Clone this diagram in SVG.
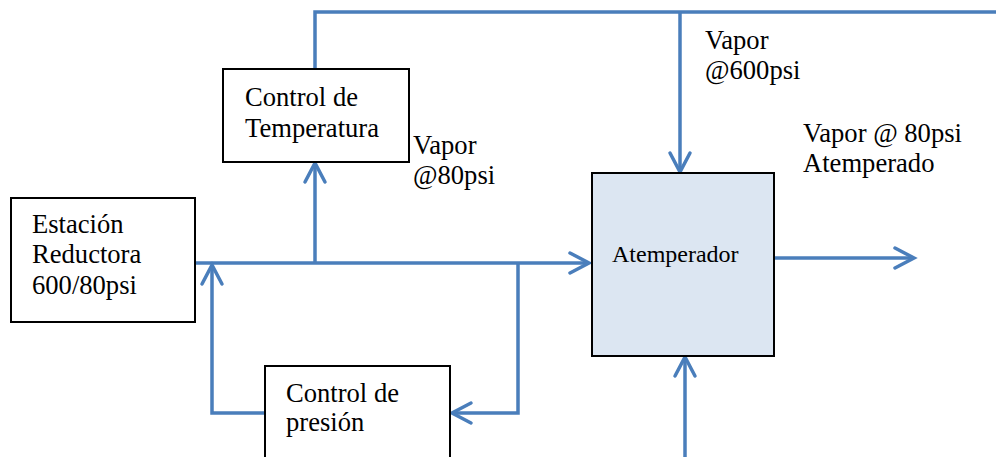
<svg xmlns="http://www.w3.org/2000/svg" width="996" height="457" viewBox="0 0 996 457">
  <style>
    .box { fill: #ffffff; stroke: #000000; stroke-width: 2; }
    .box.hot { fill: #dce6f2; }
    .flow { fill: none; stroke: #4a7ebb; stroke-width: 3.5; }
    text { font-family: 'Liberation Serif', 'DejaVu Serif', serif; font-size: 26.6px; fill: #000000; }
    text.sm { font-size: 24px; }
  </style>
  <defs>
    <marker id="chev" viewBox="-2 -2 26 26" refX="20" refY="11" markerWidth="26" markerHeight="26" markerUnits="userSpaceOnUse" orient="auto">
      <path d="M1,1 L20,11 L1,21" fill="none" stroke="#4a7ebb" stroke-width="3.5" stroke-linecap="round" stroke-linejoin="miter"/>
    </marker>
  </defs>

  <!-- piping and signal lines -->
  <g id="connectors">
    <!-- 600 psi header -->
    <polyline class="flow" points="315,69 315,12 996,12"/>
    <line class="flow" x1="680" y1="12" x2="680" y2="172" marker-end="url(#chev)"/>
    <!-- 80 psi line from reducing station to attemperator -->
    <line class="flow" x1="195" y1="263" x2="589" y2="263" marker-end="url(#chev)"/>
    <line class="flow" x1="315" y1="263" x2="315" y2="163" marker-end="url(#chev)"/>
    <!-- pressure control loop -->
    <polyline class="flow" points="518,263 518,413 452,413" marker-end="url(#chev)"/>
    <polyline class="flow" points="265,413 212,413 212,265" marker-end="url(#chev)"/>
    <!-- attemperated steam outlet -->
    <line class="flow" x1="774" y1="258" x2="914" y2="258" marker-end="url(#chev)"/>
    <!-- water inlet from below -->
    <line class="flow" x1="685" y1="457" x2="685" y2="357" marker-end="url(#chev)"/>
  </g>

  <g id="control-temperatura">
    <rect class="box" x="223" y="69" width="186" height="93"/>
    <text x="245" y="106">Control de</text>
    <text x="245" y="137">Temperatura</text>
  </g>

  <g id="estacion-reductora">
    <rect class="box" x="11" y="198" width="184" height="124"/>
    <text x="32" y="233">Estación</text>
    <text x="32" y="263">Reductora</text>
    <text x="32" y="294">600/80psi</text>
  </g>

  <g id="control-presion">
    <rect class="box" x="265" y="366" width="185" height="100"/>
    <text x="286" y="402">Control de</text>
    <text x="286" y="431">presión</text>
  </g>

  <g id="atemperador">
    <rect class="box hot" x="592" y="173" width="182" height="183"/>
    <text class="sm" x="612" y="262">Atemperador</text>
  </g>

  <g id="labels">
    <text x="413" y="154">Vapor</text>
    <text x="413" y="184">@80psi</text>
    <text x="705" y="49">Vapor</text>
    <text x="705" y="79">@600psi</text>
    <text x="803" y="142">Vapor @ 80psi</text>
    <text x="803" y="172">Atemperado</text>
  </g>
</svg>
